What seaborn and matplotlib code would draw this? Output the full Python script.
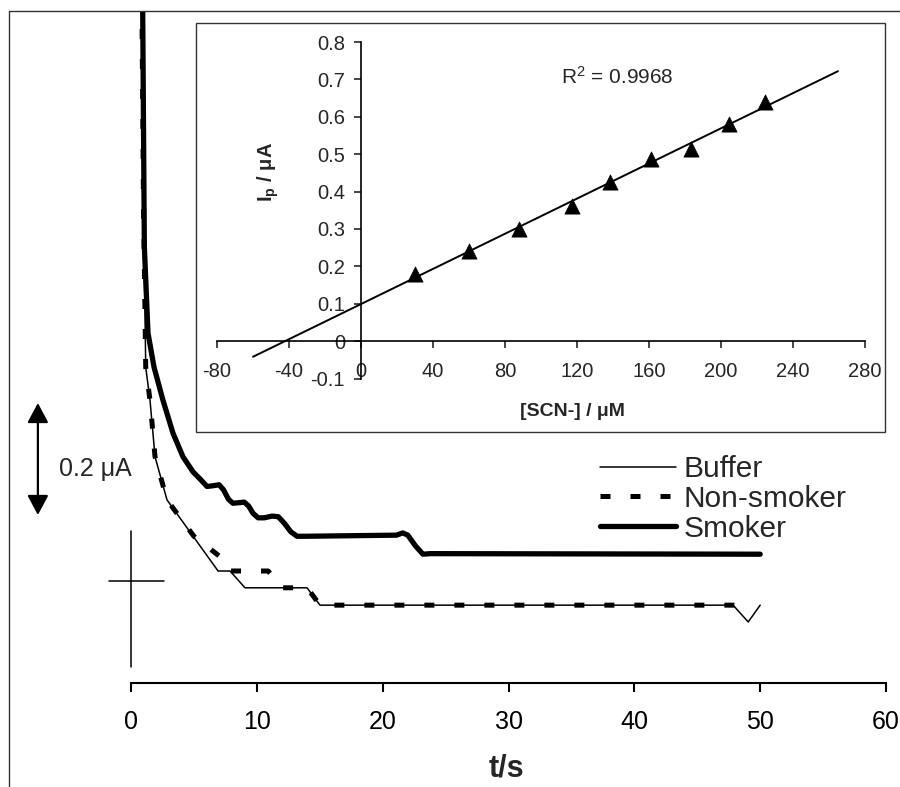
import numpy as np
import matplotlib
matplotlib.use('Agg')
import matplotlib.pyplot as plt
from matplotlib.patches import Rectangle
from matplotlib.lines import Line2D
import seaborn as sns

# ---------------- data ----------------
# main chart: chronoamperometric traces (t in s, current offset in uA)
buffer_t = [0.85, 0.87, 0.99, 1.17, 1.51, 1.91, 2.86, 6.92, 7.87, 9.06, 13.99, 15.02, 47.85, 49.05, 50.0]
buffer_i = [1.30, 1.20, 0.863, 0.564, 0.505, 0.404, 0.327, 0.200, 0.200, 0.170, 0.170, 0.139, 0.139, 0.109, 0.139]

nonsmoker_t = [0.85, 0.87, 0.99, 1.17, 1.51, 1.91, 2.86, 5.0, 7.34, 7.9, 10.9, 12.0, 14.0, 15.02, 49.5]
nonsmoker_i = [1.30, 1.20, 0.863, 0.564, 0.505, 0.404, 0.327, 0.262, 0.221, 0.200, 0.200, 0.170, 0.170, 0.139, 0.139]

smoker_t = [0.85, 0.93, 1.06, 1.35, 1.83, 2.54, 3.34, 4.13, 4.93, 5.5, 6.04, 6.45, 7.0, 7.35, 7.75, 8.1, 8.6,
            9.0, 9.35, 9.7, 10.1, 10.6, 11.2, 11.7, 12.2, 12.7, 13.2, 13.8, 21.1, 21.6, 22.0, 22.6,
            23.2, 23.8, 50.0]
smoker_i = [1.30, 1.20, 0.78, 0.625, 0.564, 0.505, 0.446, 0.404, 0.377, 0.364, 0.351, 0.352, 0.354, 0.345,
            0.328, 0.321, 0.322, 0.323, 0.316, 0.303, 0.295, 0.295, 0.298, 0.297, 0.285, 0.270, 0.262,
            0.262, 0.264, 0.268, 0.264, 0.245, 0.230, 0.231, 0.230]

series_labels = ['Buffer', 'Non-smoker', 'Smoker']
main_xticks = [0, 10, 20, 30, 40, 50, 60]

# scale bar (uA) and reference cross
scale_bar_ua = 0.2
scale_bar_t = -7.4
scale_bar_base = 0.3
cross_t = [-1.75, 2.62]
cross_i = [0.029, 0.271]
cross_level = 0.182

# inset: calibration
scn_conc = [30, 60, 87.6, 117.4, 138.1, 161.2, 183.4, 204.7, 224.6]
peak_current = [0.179, 0.241, 0.301, 0.362, 0.425, 0.486, 0.515, 0.580, 0.640]
trend_range = [-60, 265]
r2_text = r'R$^\mathregular{2}$ = 0.9968'
inset_xticks = [-80, -40, 0, 40, 80, 120, 160, 200, 240, 280]
inset_yticks = [-0.1, 0, 0.1, 0.2, 0.3, 0.4, 0.5, 0.6, 0.7, 0.8]
inset_yticklabels = ['-0.1', '0', '0.1', '0.2', '0.3', '0.4', '0.5', '0.6', '0.7', '0.8']

# ---------------- style ----------------
sns.set_style('white')
plt.rcParams['font.family'] = ['Liberation Sans', 'DejaVu Sans']
plt.rcParams['mathtext.fontset'] = 'custom'
plt.rcParams['mathtext.rm'] = 'Liberation Sans'
plt.rcParams['mathtext.it'] = 'Liberation Sans:italic'
plt.rcParams['mathtext.bf'] = 'Liberation Sans:bold'

W, H = 900, 787
fig = plt.figure(figsize=(9, 7.87), dpi=100)

def fx(px):
    return px / W

def fy(py):
    return (H - py) / H

# ---------------- main axes ----------------
ax = fig.add_axes([fx(131), fy(683), (886 - 131) / W, (683 - 11) / H])
ax.patch.set_alpha(0)

sns.lineplot(x=buffer_t, y=buffer_i, sort=False, estimator=None, ax=ax,
             color='black', linewidth=1.1, label=series_labels[0])
sns.lineplot(x=nonsmoker_t, y=nonsmoker_i, sort=False, estimator=None, ax=ax,
             color='black', linewidth=3.6, linestyle=(0, (2, 4)),
             dash_capstyle='butt', label=series_labels[1])
sns.lineplot(x=smoker_t, y=smoker_i, sort=False, estimator=None, ax=ax,
             color='black', linewidth=3.8, solid_capstyle='round',
             solid_joinstyle='round', label=series_labels[2])

ax.set_xlim(0, 60)
ax.set_ylim(0, 1.2)
ax.set_xticks(main_xticks)
ax.set_yticks([])
for s in ['left', 'top', 'right']:
    ax.spines[s].set_visible(False)
ax.spines['bottom'].set_linewidth(1.5)
ax.spines['bottom'].set_color('black')
ax.tick_params(axis='x', direction='out', length=6.5, width=1.5, labelsize=18,
               pad=13, colors='black', bottom=True)
ax.set_xlabel('t/s', fontsize=22, fontweight='bold')
ax.xaxis.set_label_coords((506 - 131) / 755, -0.105)
ax.set_ylabel('')

# scale bar
ax.annotate('', xy=(scale_bar_t, scale_bar_base + scale_bar_ua),
            xytext=(scale_bar_t, scale_bar_base),
            arrowprops=dict(arrowstyle='<|-|>,head_length=0.6,head_width=0.32',
                            color='black', lw=1.6, shrinkA=0, shrinkB=0,
                            mutation_scale=20),
            annotation_clip=False)
ax.text(-5.72, 0.382, '0.2 μA', fontsize=18, ha='left', va='center', clip_on=False)

# reference cross
ax.plot([0, 0], cross_i, color='black', lw=1.1, clip_on=False)
ax.plot(cross_t, [cross_level, cross_level], color='black', lw=1.1, clip_on=False)

handles, labels = ax.get_legend_handles_labels()
leg = ax.legend(handles, labels, loc='upper left', bbox_to_anchor=(fx(600), fy(455)),
                bbox_transform=fig.transFigure, frameon=False, fontsize=21.5,
                handlelength=2.55, handletextpad=0.25, labelspacing=0.06,
                borderpad=0, borderaxespad=0)

# ---------------- inset ----------------
box = Rectangle((fx(196), fy(432)), (885 - 196) / W, (432 - 23) / H,
                transform=fig.transFigure, facecolor='white', edgecolor='#333333',
                lw=1.0, zorder=1)
fig.add_artist(box)

axin = fig.add_axes([fx(217), fy(378.5), 648 / W, 336.5 / H])
axin.set_zorder(2)
axin.patch.set_alpha(0)

sns.scatterplot(x=scn_conc, y=peak_current, marker='^', s=120, color='black',
                edgecolor='black', linewidth=0.5, ax=axin, zorder=3)
coef = np.polyfit(scn_conc, peak_current, 1)
tx = np.array(trend_range, dtype=float)
sns.lineplot(x=tx, y=np.polyval(coef, tx), ax=axin, color='black', linewidth=1.4,
             sort=False, estimator=None)

axin.set_xlim(-80, 280)
axin.set_ylim(-0.1, 0.8)
axin.spines['left'].set_position(('data', 0))
axin.spines['bottom'].set_position(('data', 0))
axin.spines['top'].set_visible(False)
axin.spines['right'].set_visible(False)
for s in ['left', 'bottom']:
    axin.spines[s].set_linewidth(1.2)
    axin.spines[s].set_color('black')
axin.xaxis.set_ticks_position('bottom')
axin.yaxis.set_ticks_position('left')
axin.set_xticks(inset_xticks)
axin.set_xticklabels([str(v) for v in inset_xticks])
axin.set_yticks(inset_yticks)
axin.set_yticklabels(inset_yticklabels)
axin.tick_params(axis='x', direction='out', length=5, width=1.2, labelsize=14.5, pad=10)
axin.tick_params(axis='y', direction='out', length=5, width=1.2, labelsize=14.5, pad=6.5)

axin.set_xlabel('[SCN-] / μM', fontsize=14, fontweight='bold')
axin.xaxis.set_label_coords((572 - 217) / 648, (378.5 - 411) / 336.5)
axin.xaxis.label.set_va('center')
axin.set_ylabel(r'I$_\mathbf{p}$ / μA', fontsize=14.5, fontweight='bold')
axin.yaxis.set_label_coords((268 - 217) / 648, (378.5 - 172) / 336.5)
axin.yaxis.label.set_va('center')

axin.text(142.5, 0.706, r2_text, fontsize=15, ha='center', va='center')

# outer frame (left and top edges visible)
fig.add_artist(Line2D([fx(8.5), fx(8.5)], [0, fy(11)], transform=fig.transFigure,
                      color='#333333', lw=1.0))
fig.add_artist(Line2D([fx(8.5), 1], [fy(11), fy(11)], transform=fig.transFigure,
                      color='#333333', lw=1.0))

fig.savefig('out.png', dpi=100)
